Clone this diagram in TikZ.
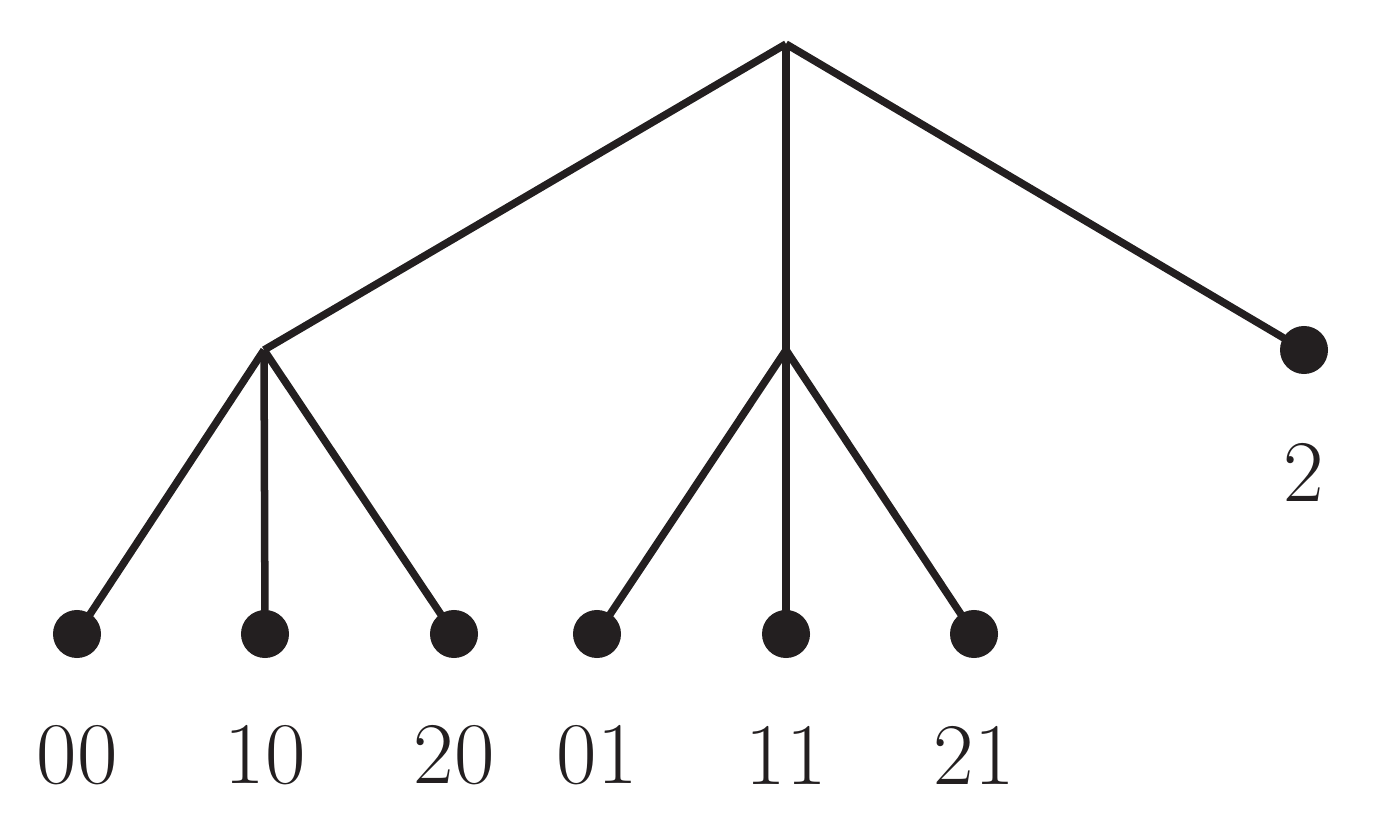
\documentclass[tikz,border=0pt]{standalone}
\usepackage{xcolor}
\usepackage{tikz}
\usetikzlibrary{positioning}
\definecolor{treeblack}{RGB}{35,31,32}

\begin{document}
\begin{tikzpicture}[
    x=0.01cm, y=-0.01cm,
    leaf/.style={circle, fill=treeblack, inner sep=0pt, minimum size=0.48cm},
    leaflabel/.style={font=\fontsize{25}{28}\selectfont, text=treeblack},
    edge/.style={line width=0.075cm, treeblack}
]
    \useasboundingbox (0,0) rectangle (1376,837);

    % Root and inner vertices
    \coordinate (root) at (786,44);
    \coordinate (v0) at (264,350);
    \coordinate (v1) at (786,350);

    % Leaves
    \node[leaf] (l2) at (1304,350) {};
    \node[leaf] (l00) at (77,634) {};
    \node[leaf] (l10) at (265,634) {};
    \node[leaf] (l20) at (454,634) {};
    \node[leaf] (l01) at (597,634) {};
    \node[leaf] (l11) at (786,634) {};
    \node[leaf] (l21) at (974,634) {};

    % Labels
    \node[leaflabel] (t2) at (1304,472) {2};
    \node[leaflabel] (t00) at (77,755) {00};
    \node[leaflabel] (t10) at (265,755) {10};
    \node[leaflabel] (t20) at (454,755) {20};
    \node[leaflabel] (t01) at (597,755) {01};
    \node[leaflabel] (t11) at (786,755) {11};
    \node[leaflabel] (t21) at (974,755) {21};

    % Edges
    \draw[edge] (root) -- (v0);
    \draw[edge] (root) -- (v1);
    \draw[edge] (root) -- (l2.center);
    \draw[edge] (v0) -- (l00.center);
    \draw[edge] (v0) -- (l10.center);
    \draw[edge] (v0) -- (l20.center);
    \draw[edge] (v1) -- (l01.center);
    \draw[edge] (v1) -- (l11.center);
    \draw[edge] (v1) -- (l21.center);
\end{tikzpicture}
\end{document}
